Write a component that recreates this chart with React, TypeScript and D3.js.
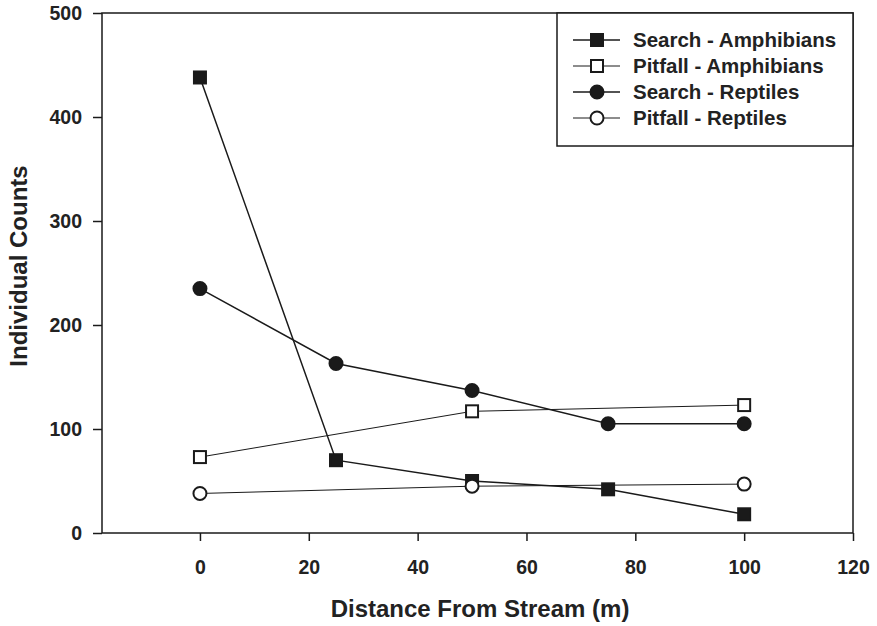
import React, { useRef, useEffect } from "react";
import * as d3 from "d3";

const distances = [0, 25, 50, 75, 100];
const searchAmphibians = [438, 70, 50, 42, 18];
const pitfallAmphibiansX = [0, 50, 100];
const pitfallAmphibians = [73, 117, 123];
const searchReptiles = [235, 163, 137, 105, 105];
const pitfallReptilesX = [0, 50, 100];
const pitfallReptiles = [38, 45, 47];
const xTicks = [0, 20, 40, 60, 80, 100, 120];
const yTicks = [0, 100, 200, 300, 400, 500];

const series = [
  { name: "Search - Amphibians", xs: distances, ys: searchAmphibians, shape: "square", filled: true, width: 1.5 },
  { name: "Pitfall - Amphibians", xs: pitfallAmphibiansX, ys: pitfallAmphibians, shape: "square", filled: false, width: 1 },
  { name: "Search - Reptiles", xs: distances, ys: searchReptiles, shape: "circle", filled: true, width: 1.5 },
  { name: "Pitfall - Reptiles", xs: pitfallReptilesX, ys: pitfallReptiles, shape: "circle", filled: false, width: 1 },
];

const W = 877;
const H = 626;
const margin = { top: 13, right: 24, bottom: 93, left: 102 };
const FONT = "Arial, 'Liberation Sans', sans-serif";
const INK = "#1a1a1a";

const App = () => {
  const svgRef = useRef<SVGSVGElement>(null);

  useEffect(() => {
    document.body.style.margin = "0";
    const svg = d3.select(svgRef.current);
    svg.selectAll("*").remove();

    const x = d3.scaleLinear().domain([-18, 120]).range([margin.left, W - margin.right]);
    const y = d3.scaleLinear().domain([0, 500]).range([H - margin.bottom, margin.top]);

    // frame
    svg
      .append("rect")
      .attr("x", x(-18))
      .attr("y", y(500))
      .attr("width", x(120) - x(-18))
      .attr("height", y(0) - y(500))
      .attr("fill", "none")
      .attr("stroke", INK)
      .attr("stroke-width", 1.5);

    const xAxis = svg
      .append("g")
      .attr("transform", `translate(0,${y(0)})`)
      .call(d3.axisBottom(x).tickValues(xTicks).tickSize(8).tickPadding(19).tickFormat(d3.format("d")));
    xAxis.select(".domain").remove();

    const yAxis = svg
      .append("g")
      .attr("transform", `translate(${x(-18)},0)`)
      .call(d3.axisLeft(y).tickValues(yTicks).tickSize(9).tickPadding(11).tickFormat(d3.format("d")));
    yAxis.select(".domain").remove();

    svg.selectAll(".tick line").attr("stroke", INK).attr("stroke-width", 1.5);
    svg
      .selectAll(".tick text")
      .attr("fill", "#222")
      .style("font-family", FONT)
      .style("font-size", "19.5px")
      .style("font-weight", "bold");

    const line = d3.line<[number, number]>().x((d) => x(d[0])).y((d) => y(d[1]));

    const drawMarker = (g: any, shape: string, filled: boolean, cx: number, cy: number) => {
      if (shape === "square") {
        g.append("rect")
          .attr("x", cx - 6)
          .attr("y", cy - 6)
          .attr("width", 12)
          .attr("height", 12)
          .attr("fill", filled ? INK : "white")
          .attr("stroke", INK)
          .attr("stroke-width", 2);
      } else {
        g.append("circle")
          .attr("cx", cx)
          .attr("cy", cy)
          .attr("r", 6.5)
          .attr("fill", filled ? INK : "white")
          .attr("stroke", INK)
          .attr("stroke-width", 2);
      }
    };

    series.forEach((s) => {
      const pts = s.xs.map((d, i) => [d, s.ys[i]] as [number, number]);
      svg
        .append("path")
        .attr("d", line(pts))
        .attr("fill", "none")
        .attr("stroke", INK)
        .attr("stroke-width", s.width);
    });
    series.forEach((s) => {
      const g = svg.append("g");
      s.xs.forEach((d, i) => drawMarker(g, s.shape, s.filled, x(d), y(s.ys[i])));
    });

    // legend
    const lg = svg.append("g");
    lg.append("rect")
      .attr("x", 557)
      .attr("y", y(500))
      .attr("width", x(120) - 557)
      .attr("height", 146 - y(500))
      .attr("fill", "white")
      .attr("stroke", INK)
      .attr("stroke-width", 1.5);
    series.forEach((s, i) => {
      const ry = 40 + i * 26;
      lg.append("line")
        .attr("x1", 573)
        .attr("x2", 620)
        .attr("y1", ry)
        .attr("y2", ry)
        .attr("stroke", INK)
        .attr("stroke-width", s.width);
      drawMarker(lg, s.shape, s.filled, 597, ry);
      lg.append("text")
        .attr("x", 633)
        .attr("y", ry)
        .attr("dy", "0.36em")
        .attr("fill", "#222")
        .style("font-family", FONT)
        .style("font-size", "20.5px")
        .style("font-weight", "bold")
        .text(s.name);
    });

    svg
      .append("text")
      .attr("x", 480)
      .attr("y", 617)
      .attr("text-anchor", "middle")
      .attr("fill", "#222")
      .style("font-family", FONT)
      .style("font-size", "24px")
      .style("font-weight", "bold")
      .text("Distance From Stream (m)");

    svg
      .append("text")
      .attr("transform", `translate(27,266) rotate(-90)`)
      .attr("text-anchor", "middle")
      .attr("fill", "#222")
      .style("font-family", FONT)
      .style("font-size", "24px")
      .style("font-weight", "bold")
      .text("Individual Counts");
  }, []);

  return <svg ref={svgRef} width={W} height={H} style={{ display: "block", background: "white" }} />;
};

export default App;
